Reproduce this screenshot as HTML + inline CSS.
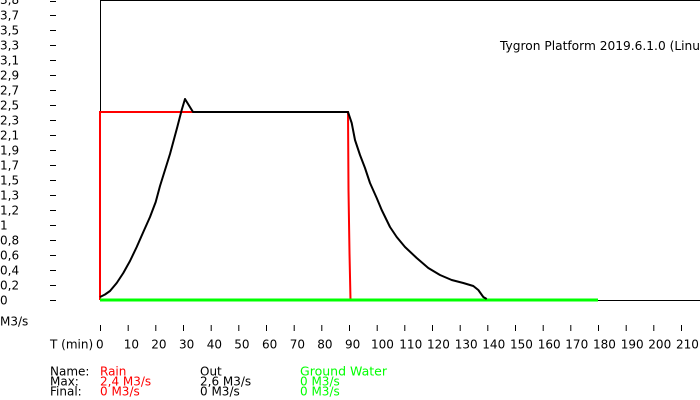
<!DOCTYPE html>
<html>
<head>
<meta charset="utf-8">
<style>
html,body{margin:0;padding:0;background:#fff;}
svg{display:block;}
text{font-family:"DejaVu Sans","Liberation Sans",sans-serif;font-size:12px;}
</style>
</head>
<body>
<svg width="700" height="400" viewBox="0 0 700 400" xmlns="http://www.w3.org/2000/svg">
<rect width="700" height="400" fill="#fff"/>
<!-- axes -->
<line x1="100" y1="0.5" x2="700" y2="0.5" stroke="#000" stroke-width="1"/>
<line x1="100.5" y1="0" x2="100.5" y2="300" stroke="#000" stroke-width="1"/>
<line x1="100" y1="300.5" x2="700" y2="300.5" stroke="#000" stroke-width="1"/>

<!-- y labels -->
<g fill="#000">
<text x="0" y="304.5">0</text>
<text x="0" y="289.5">0,2</text>
<text x="0" y="274.5">0,4</text>
<text x="0" y="259.5">0,6</text>
<text x="0" y="244.5">0,8</text>
<text x="0" y="229.5">1</text>
<text x="0" y="214.5">1,2</text>
<text x="0" y="199.5">1,3</text>
<text x="0" y="184.5">1,5</text>
<text x="0" y="169.5">1,7</text>
<text x="0" y="154.5">1,9</text>
<text x="0" y="139.5">2,1</text>
<text x="0" y="124.5">2,3</text>
<text x="0" y="109.5">2,5</text>
<text x="0" y="94.5">2,7</text>
<text x="0" y="79.5">2,9</text>
<text x="0" y="64.5">3,1</text>
<text x="0" y="49.5">3,3</text>
<text x="0" y="34.5">3,5</text>
<text x="0" y="19.5">3,7</text>
<text x="0" y="3.8">3,8</text>
</g>
<g stroke="#000" stroke-width="1">
<line x1="50" y1="300.5" x2="56" y2="300.5"/>
<line x1="50" y1="285.5" x2="56" y2="285.5"/>
<line x1="50" y1="270.5" x2="56" y2="270.5"/>
<line x1="50" y1="255.5" x2="56" y2="255.5"/>
<line x1="50" y1="240.5" x2="56" y2="240.5"/>
<line x1="50" y1="225.5" x2="56" y2="225.5"/>
<line x1="50" y1="210.5" x2="56" y2="210.5"/>
<line x1="50" y1="195.5" x2="56" y2="195.5"/>
<line x1="50" y1="180.5" x2="56" y2="180.5"/>
<line x1="50" y1="165.5" x2="56" y2="165.5"/>
<line x1="50" y1="150.5" x2="56" y2="150.5"/>
<line x1="50" y1="135.5" x2="56" y2="135.5"/>
<line x1="50" y1="120.5" x2="56" y2="120.5"/>
<line x1="50" y1="105.5" x2="56" y2="105.5"/>
<line x1="50" y1="90.5" x2="56" y2="90.5"/>
<line x1="50" y1="75.5" x2="56" y2="75.5"/>
<line x1="50" y1="60.5" x2="56" y2="60.5"/>
<line x1="50" y1="45.5" x2="56" y2="45.5"/>
<line x1="50" y1="30.5" x2="56" y2="30.5"/>
<line x1="50" y1="15.5" x2="56" y2="15.5"/>
<line x1="50" y1="1.5" x2="56" y2="1.5"/>
</g>
<text x="0" y="325.5">M3/s</text>

<!-- x ticks -->
<g stroke="#000" stroke-width="1">
<line x1="100.5" y1="325" x2="100.5" y2="331"/>
<line x1="128.2" y1="325" x2="128.2" y2="331"/>
<line x1="155.8" y1="325" x2="155.8" y2="331"/>
<line x1="183.5" y1="325" x2="183.5" y2="331"/>
<line x1="211.2" y1="325" x2="211.2" y2="331"/>
<line x1="238.8" y1="325" x2="238.8" y2="331"/>
<line x1="266.5" y1="325" x2="266.5" y2="331"/>
<line x1="294.2" y1="325" x2="294.2" y2="331"/>
<line x1="321.8" y1="325" x2="321.8" y2="331"/>
<line x1="349.5" y1="325" x2="349.5" y2="331"/>
<line x1="377.2" y1="325" x2="377.2" y2="331"/>
<line x1="404.8" y1="325" x2="404.8" y2="331"/>
<line x1="432.5" y1="325" x2="432.5" y2="331"/>
<line x1="460.2" y1="325" x2="460.2" y2="331"/>
<line x1="487.8" y1="325" x2="487.8" y2="331"/>
<line x1="515.5" y1="325" x2="515.5" y2="331"/>
<line x1="543.2" y1="325" x2="543.2" y2="331"/>
<line x1="570.8" y1="325" x2="570.8" y2="331"/>
<line x1="598.5" y1="325" x2="598.5" y2="331"/>
<line x1="626.2" y1="325" x2="626.2" y2="331"/>
<line x1="653.8" y1="325" x2="653.8" y2="331"/>
<line x1="681.5" y1="325" x2="681.5" y2="331"/>
</g>
<g fill="#000">
<text x="50" y="348.5">T (min)</text>
<text x="96" y="348.5">0</text>
<text x="123.7" y="348.5">10</text>
<text x="151.3" y="348.5">20</text>
<text x="179" y="348.5">30</text>
<text x="206.7" y="348.5">40</text>
<text x="234.3" y="348.5">50</text>
<text x="262" y="348.5">60</text>
<text x="289.7" y="348.5">70</text>
<text x="317.3" y="348.5">80</text>
<text x="345" y="348.5">90</text>
<text x="371" y="348.5">100</text>
<text x="399.3" y="348.5">110</text>
<text x="427" y="348.5">120</text>
<text x="454.7" y="348.5">130</text>
<text x="482.3" y="348.5">140</text>
<text x="510" y="348.5">150</text>
<text x="537.7" y="348.5">160</text>
<text x="565.3" y="348.5">170</text>
<text x="593" y="348.5">180</text>
<text x="620.7" y="348.5">190</text>
<text x="648.3" y="348.5">200</text>
<text x="676" y="348.5">210</text>
</g>

<!-- title -->
<text x="500" y="50" fill="#000" textLength="212" lengthAdjust="spacingAndGlyphs">Tygron Platform 2019.6.1.0 (Linux)</text>

<!-- series -->
<path d="M100,300 L100,112 L348,112 L348.5,190 L349.5,253 L350.5,300" fill="none" stroke="#ff0000" stroke-width="2"/>
<line x1="100" y1="300" x2="598" y2="300" stroke="#00ff00" stroke-width="3"/>
<path d="M100,297 L105,294.5 L110,291 L116.7,283 L123.3,273 L130,261 L136.7,247 L143.3,232 L150,217 L155.7,202 L160,186 L165,170 L170,154 L177.3,127 L181.7,110 L185,99 L193,112 L348,112 L351.7,123 L355,140 L360,155 L365,168 L370,183 L376.7,198 L381.7,210 L390,227 L396.7,237 L405,247 L416.7,258 L428.3,268 L440,275 L451.7,280 L463.3,283 L473.3,286 L478.3,290 L483.3,297 L486.7,299" fill="none" stroke="#000" stroke-width="2" stroke-linejoin="round"/>

<!-- legend -->
<text x="50" y="375.5" fill="#000">Name:</text>
<text x="50" y="385.5" fill="#000">Max:</text>
<text x="50" y="395.5" fill="#000">Final:</text>
<text x="100" y="375.5" fill="#ff0000">Rain</text>
<text x="100" y="385.5" fill="#ff0000">2,4 M3/s</text>
<text x="100" y="395.5" fill="#ff0000">0 M3/s</text>
<text x="200" y="375.5" fill="#000">Out</text>
<text x="200" y="385.5" fill="#000">2,6 M3/s</text>
<text x="200" y="395.5" fill="#000">0 M3/s</text>
<text x="300" y="375.5" fill="#00ff00" textLength="87" lengthAdjust="spacingAndGlyphs">Ground Water</text>
<text x="300" y="385.5" fill="#00ff00">0 M3/s</text>
<text x="300" y="395.5" fill="#00ff00">0 M3/s</text>
</svg>
</body>
</html>
